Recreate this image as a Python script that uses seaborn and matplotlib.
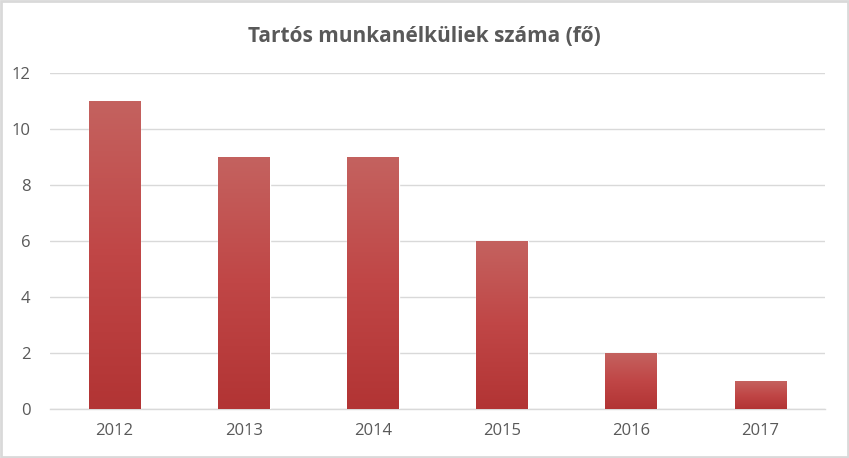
import matplotlib
matplotlib.use("Agg")
import matplotlib.pyplot as plt
import seaborn as sns
import numpy as np
import pandas as pd
from matplotlib.colors import LinearSegmentedColormap
from matplotlib.patches import Rectangle

years = ["2012", "2013", "2014", "2015", "2016", "2017"]
values = [11, 9, 9, 6, 2, 1]
title = "Tartós munkanélküliek száma (fő)"

sns.set_theme(style="white")
plt.rcParams['font.family'] = ['Open Sans', 'DejaVu Sans']

df = pd.DataFrame({"year": years, "value": values})

fig = plt.figure(figsize=(8.49, 4.58), dpi=100)
ax = fig.add_axes([50/849, 49/458, 775/849, 336/458])

sns.barplot(data=df, x="year", y="value", color="#C04848", width=0.4, ax=ax, zorder=3)

cmap = LinearSegmentedColormap.from_list("g", ["#B23434", "#C04646", "#C4625F"])
grad = np.linspace(0, 1, 256).reshape(-1, 1)
for p in list(ax.patches):
    x0, y0 = p.get_x(), p.get_y()
    w, h = p.get_width(), p.get_height()
    im = ax.imshow(grad, cmap=cmap, origin="lower", aspect="auto",
                   extent=[x0, x0 + w, y0, y0 + h], zorder=4)
    im.set_clip_path(p)
    p.set_facecolor("none")

ax.set_xlim(-0.5, 5.5)
ax.set_ylim(0, 12)
ax.set_yticks(range(0, 13, 2))
ax.yaxis.grid(True, color="#D9D9D9", linewidth=1, zorder=0)
ax.set_axisbelow(True)
for s in ["top", "right", "left"]:
    ax.spines[s].set_visible(False)
ax.spines["bottom"].set_color("#D9D9D9")
ax.spines["bottom"].set_linewidth(1)
ax.tick_params(axis="both", length=0, labelsize=12, colors="#595959", pad=10)
ax.tick_params(axis="y", pad=14)
ax.set_xlabel("")
ax.set_ylabel("")

fig.text(424/849, 1 - 37/458, title, ha="center", va="center",
         fontsize=15, fontweight="bold", color="#595959")

fig.patches.append(Rectangle((0.0015, 0.003), 0.997, 0.994, transform=fig.transFigure,
                             fill=False, edgecolor="#D9D9D9", linewidth=2))

fig.savefig("out.png", dpi=100, facecolor="white")
